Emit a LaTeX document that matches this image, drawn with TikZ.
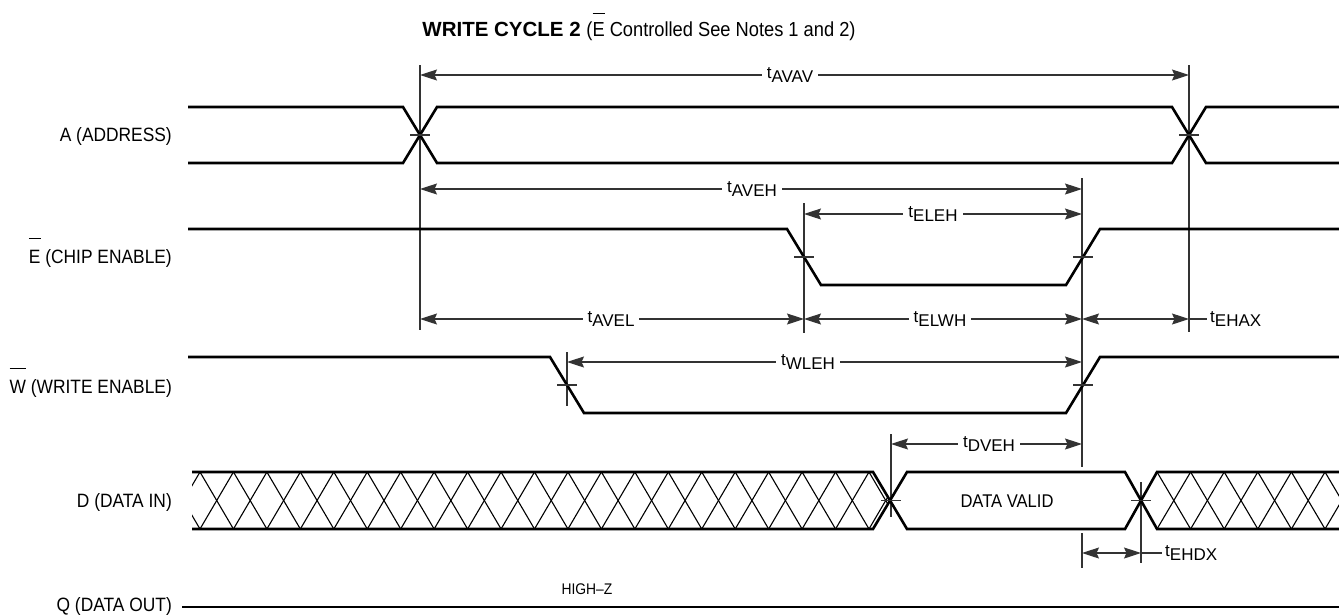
\documentclass[tikz,border=0pt]{standalone}
\usepackage{fontspec}
\setmainfont{Liberation Sans}
\newfontfamily\narrow{Liberation Sans}[FakeStretch=0.9]
\usetikzlibrary{arrows.meta}
\newcommand\tsub[1]{t\raisebox{-0.25em}{#1}}
\newcommand\ovbar[2][24pt]{\setbox0\hbox{#2}\rlap{\raisebox{#1}{\rule{\wd0}{0.9pt}}}\box0\relax}
\begin{document}
\begin{tikzpicture}[x=1pt,y=-1pt,
  sig/.style={line width=2.6pt},
  refl/.style={line width=1.1pt,black!80},
  tick/.style={line width=1.1pt,black!80},
  dim/.style={line width=1.1pt,black!80,{Stealth[length=17pt,width=11pt,inset=2.5pt]}-{Stealth[length=17pt,width=11pt,inset=2.5pt]}},
  lead/.style={line width=1.1pt,black!80},
  hatch/.style={line width=1.1pt,black},
  lab/.style={font=\narrow\fontsize{19.3}{22}\selectfont,inner sep=0pt,anchor=base east},
  tl/.style={font=\fontsize{17}{20}\selectfont,fill=white,inner xsep=5pt,inner ysep=1pt},
  tlw/.style={font=\fontsize{17}{20}\selectfont,inner sep=0pt,anchor=west},
  txt/.style={font=\narrow\fontsize{18.4}{22}\selectfont,inner sep=0pt}]
\useasboundingbox (0,0) rectangle (1339,614);

% title
\node[inner sep=0pt,anchor=base] (title) at (639,36)
  {\fontsize{20.5}{24}\selectfont\bfseries WRITE CYCLE 2 \narrow\fontsize{20.3}{24}\selectfont\mdseries(\ovbar[22pt]{E} Controlled See Notes 1 and 2)};

% signal labels
\node[lab] (lA) at (172,141) {A (ADDRESS)};
\node[lab] (lE) at (172,263) {\ovbar{E} (CHIP ENABLE)};
\node[lab] (lW) at (172,393) {\ovbar{W} (WRITE ENABLE)};
\node[lab] (lD) at (172,507) {D (DATA IN)};
\node[lab] (lQ) at (172,611) {Q (DATA OUT)};

% reference verticals
\coordinate (r1t) at (420,65);   \coordinate (r1b) at (420,330);
\coordinate (r2t) at (1189,65);  \coordinate (r2b) at (1189,332);
\coordinate (r3t) at (804,203);  \coordinate (r3b) at (804,333);
\coordinate (r4t) at (1082,178); \coordinate (r4b) at (1082,467);
\coordinate (r5t) at (567,352);  \coordinate (r5b) at (567,406);
\coordinate (r6t) at (891,434);  \coordinate (r6b) at (891,517);
\coordinate (r7t) at (1141,482); \coordinate (r7b) at (1141,563);
\coordinate (r8t) at (1082,533); \coordinate (r8b) at (1082,568);
\foreach \r in {1,...,8} {\draw[refl] (r\r t) -- (r\r b);}

% hatch (don't care)
\begin{scope}
\clip (192,472) -- (873,472) -- (891,500.5) -- (873,529) -- (192,529) -- cycle;
\foreach \k in {-1,...,20} {
  \draw[hatch] ({200+33.45*\k},472) -- ({200+33.45*(\k+1)},529);
  \draw[hatch] ({200+33.45*\k},529) -- ({200+33.45*(\k+1)},472);
}
\end{scope}
\begin{scope}
\clip (1141,500.5) -- (1157,472) -- (1339,472) -- (1339,529) -- (1157,529) -- cycle;
\foreach \k in {-1,...,6} {
  \draw[hatch] ({1157+33.6*\k},472) -- ({1157+33.6*(\k+1)},529);
  \draw[hatch] ({1157+33.6*\k},529) -- ({1157+33.6*(\k+1)},472);
}
\end{scope}

% signals
\draw[sig] (188,107) -- (403,107) -- (437,163) -- (1172,163) -- (1206,107) -- (1339,107);
\draw[sig] (188,163) -- (403,163) -- (437,107) -- (1172,107) -- (1206,163) -- (1339,163);
\draw[sig] (188,229) -- (787,229) -- (821,285) -- (1066,285) -- (1100,229) -- (1339,229);
\draw[sig] (188,357) -- (550,357) -- (584,413) -- (1066,413) -- (1100,357) -- (1339,357);
\draw[sig] (192,472) -- (873,472) -- (907,529) -- (1125,529) -- (1157,472) -- (1339,472);
\draw[sig] (192,529) -- (873,529) -- (907,472) -- (1125,472) -- (1157,529) -- (1339,529);
\draw[sig] (182,607) -- (1339,607);

\node[txt] (dv) at (1007,501) {DATA VALID};
\node[font=\narrow\fontsize{15.4}{18}\selectfont,inner sep=0pt] (hz) at (587,589) {HIGH–Z};

% crossing ticks
\foreach \x/\y in {420/135,1189/135,804/257,1083/257,567/385,1083/385,891/500.5,1141/500.5}
  {\draw[tick] (\x-10,\y) -- (\x+10,\y);}

% dimension arrows
\coordinate (a1) at (420,75);  \coordinate (a2) at (1189,75);
\coordinate (b1) at (420,189); \coordinate (b2) at (1082,189);
\coordinate (c1) at (804,214); \coordinate (c2) at (1082,214);
\coordinate (d1) at (420,319); \coordinate (d2) at (804,319);
\coordinate (d3) at (1082,319); \coordinate (d4) at (1189,319); \coordinate (d5) at (1207,319);
\coordinate (e1) at (567,362); \coordinate (e2) at (1082,362);
\coordinate (f1) at (891,444); \coordinate (f2) at (1082,444);
\coordinate (g1) at (1082,553); \coordinate (g2) at (1141,553); \coordinate (g3) at (1162,553);

\draw[dim] (a1) -- (a2);
\draw[dim] (b1) -- (b2);
\draw[dim] (c1) -- (c2);
\draw[dim] (d1) -- (d2);
\draw[dim] (d2) -- (d3);
\draw[dim] (d3) -- (d4);
\draw[lead] (d4) -- (d5);
\draw[dim] (e1) -- (e2);
\draw[dim] (f1) -- (f2);
\draw[dim] (g1) -- (g2);
\draw[lead] (g2) -- (g3);

\node[tl] (tAVAV) at (790,75) {\tsub{AVAV}};
\node[tl] (tAVEH) at (752,189) {\tsub{AVEH}};
\node[tl] (tELEH) at (933,214) {\tsub{ELEH}};
\node[tl] (tAVEL) at (611,319) {\tsub{AVEL}};
\node[tl] (tELWH) at (940,319) {\tsub{ELWH}};
\node[tl] (tWLEH) at (808,362) {\tsub{WLEH}};
\node[tl] (tDVEH) at (989,444) {\tsub{DVEH}};
\node[tlw] (tEHAX) at (1210,319) {\tsub{EHAX}};
\node[tlw] (tEHDX) at (1165,553) {\tsub{EHDX}};
\end{tikzpicture}
\end{document}
